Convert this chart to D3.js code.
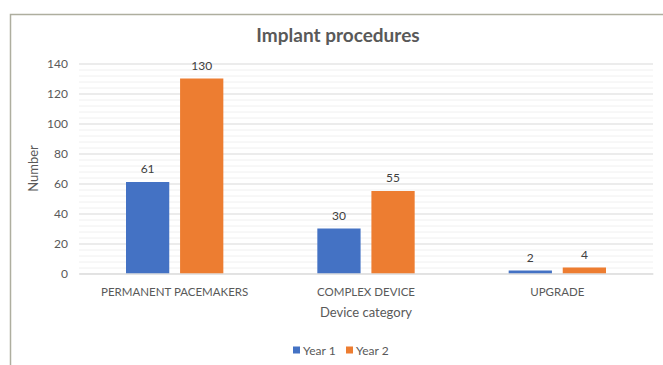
<!DOCTYPE html>
<html>
<head>
<meta charset="utf-8">
<script src="https://cdn.jsdelivr.net/npm/d3@7"></script>
<style>
  html, body { margin: 0; padding: 0; background: #fff; }
  svg { display: block; font-family: Lato, "Open Sans", sans-serif; }
</style>
</head>
<body>
<svg id="chart" width="663" height="365"></svg>
<script>
// Implant procedures by device category, two years
const categories = ["PERMANENT PACEMAKERS", "COMPLEX DEVICE", "UPGRADE"];
const seriesNames = ["Year 1", "Year 2"];
const year1 = [61, 30, 2];
const year2 = [130, 55, 4];
const colors = ["#4472c4", "#ed7d31"];
const yTicks = [0, 20, 40, 60, 80, 100, 120, 140];

const svg = d3.select("#chart");
const W = 663, H = 365;
const margin = { left: 79, right: 10, top: 63.5, bottom: 91.5 };
const innerW = W - margin.left - margin.right;
const innerH = H - margin.top - margin.bottom;

// outer frame (top and left edges visible)
svg.append("path")
  .attr("d", `M10.5,${H} L10.5,14.5 L${W},14.5`)
  .attr("fill", "none")
  .attr("stroke", "#aeae9f")
  .attr("stroke-width", 1.5);

const g = svg.append("g").attr("transform", `translate(${margin.left},${margin.top})`);

const x0 = d3.scaleBand().domain(categories).range([0, innerW]).paddingInner(0).paddingOuter(0);
const x1 = d3.scaleBand().domain(seriesNames).range([47, x0.bandwidth() - 47]).paddingInner(0.2);
const y = d3.scaleLinear().domain([0, 140]).range([innerH, 0]);

// minor gridlines
const minor = d3.range(0, 141, 4).filter(v => v % 20 !== 0);
g.append("g").selectAll("line").data(minor).join("line")
  .attr("x1", 0).attr("x2", innerW)
  .attr("y1", d => y(d) + 0.5).attr("y2", d => y(d) + 0.5)
  .attr("stroke", "#f0f0f0").attr("stroke-width", 1);

// major gridlines + tick labels via axis
const yAxis = d3.axisLeft(y).tickValues(yTicks).tickSize(-innerW).tickPadding(11);
const ya = g.append("g").call(yAxis);
ya.select(".domain").remove();
ya.selectAll(".tick line").attr("stroke", "#d9d9d9");
ya.selectAll(".tick text")
  .attr("fill", "#595959").attr("font-size", 12).attr("font-family", "Lato, sans-serif");

// bars
const data = categories.map((c, i) => ({ cat: c, vals: [year1[i], year2[i]] }));
const groups = g.append("g").selectAll("g").data(data).join("g")
  .attr("transform", d => `translate(${x0(d.cat)},0)`);

groups.selectAll("rect").data(d => d.vals.map((v, j) => ({ s: seriesNames[j], v, j })))
  .join("rect")
  .attr("x", d => x1(d.s))
  .attr("width", x1.bandwidth())
  .attr("y", d => y(d.v))
  .attr("height", d => y(0) - y(d.v))
  .attr("fill", d => colors[d.j]);

groups.selectAll("text.val").data(d => d.vals.map((v, j) => ({ s: seriesNames[j], v, j })))
  .join("text")
  .attr("class", "val")
  .attr("x", d => x1(d.s) + x1.bandwidth() / 2)
  .attr("y", d => y(d.v) - 9)
  .attr("text-anchor", "middle")
  .attr("fill", "#404040")
  .attr("font-size", 12)
  .text(d => d.v);

// x axis category labels
const xAxis = d3.axisBottom(x0).tickSize(0).tickPadding(14);
const xa = g.append("g").attr("transform", `translate(0,${innerH})`).call(xAxis);
xa.select(".domain").attr("stroke", "#d9d9d9");
xa.selectAll(".tick text")
  .attr("fill", "#595959").attr("font-size", 11.5).attr("font-family", "Lato, sans-serif");

// title
svg.append("text")
  .attr("x", 338).attr("y", 42)
  .attr("text-anchor", "middle")
  .attr("font-size", 19).attr("font-weight", "bold")
  .attr("fill", "#595959")
  .text("Implant procedures");

// axis titles
svg.append("text")
  .attr("x", margin.left + innerW / 2).attr("y", 317)
  .attr("text-anchor", "middle")
  .attr("font-size", 13).attr("fill", "#595959")
  .text("Device category");

svg.append("text")
  .attr("transform", `translate(38,${margin.top + innerH / 2}) rotate(-90)`)
  .attr("text-anchor", "middle")
  .attr("font-size", 13).attr("fill", "#595959")
  .text("Number");

// legend
const legend = svg.append("g").attr("transform", "translate(293,350)");
const items = legend.selectAll("g").data(seriesNames).join("g")
  .attr("transform", (d, i) => `translate(${i * 53},0)`);
items.append("rect").attr("x", 0).attr("y", -3.5).attr("width", 7).attr("height", 7)
  .attr("fill", (d, i) => colors[i]);
items.append("text").attr("x", 10).attr("y", 4.5)
  .attr("font-size", 12).attr("fill", "#595959").text(d => d);
</script>
</body>
</html>
